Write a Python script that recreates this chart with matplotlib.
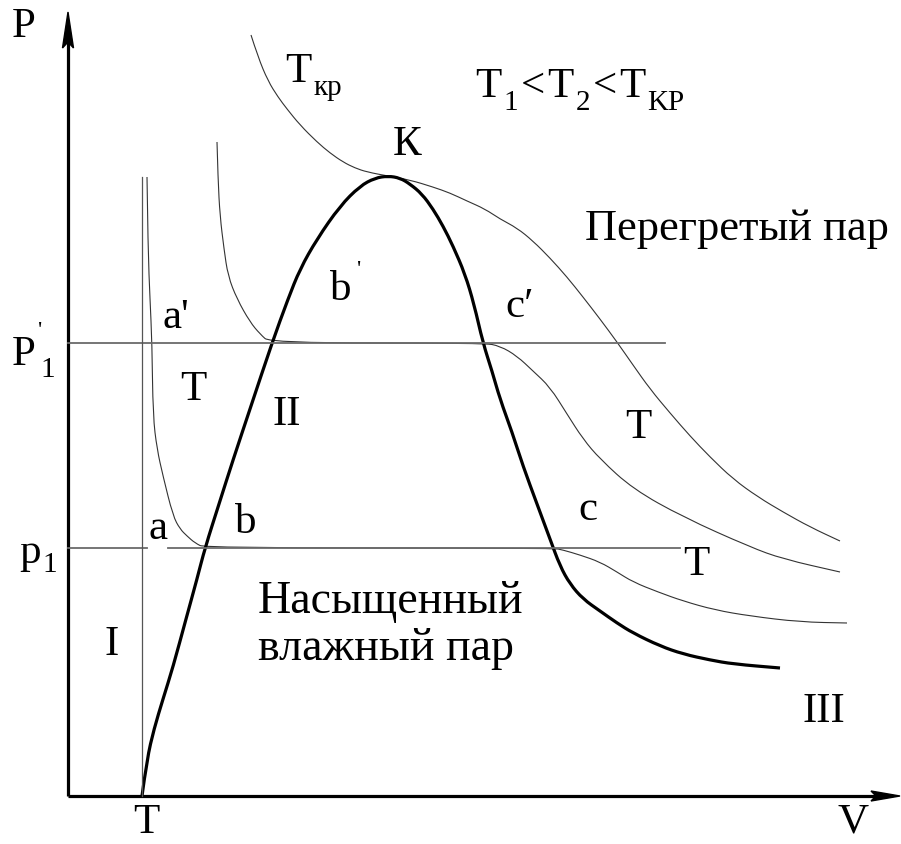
import matplotlib
matplotlib.use("Agg")
import matplotlib.pyplot as plt
from matplotlib import font_manager
from matplotlib.font_manager import FontProperties
from matplotlib.patches import Polygon, PathPatch
from matplotlib.path import Path

SERIF_FILE = font_manager.findfont(FontProperties(family='Liberation Serif'))

# === Curves on the P-V plane (V to the right, P upwards) ===
# boundary curve: liquid branch, critical point K, vapour branch
sat_v = [74, 79, 86, 95, 105, 118, 129, 137, 151, 165, 183, 204, 220, 232, 249, 272, 292,
         307, 320, 332, 342, 354, 365, 375, 385, 397, 406, 415, 424, 432, 444, 455, 469,
         482, 492, 502, 515, 532, 549, 565, 592, 615, 642, 665, 712]
sat_p = [0, 37, 67, 97, 129, 177, 217, 248, 292, 336, 390, 453, 497, 527, 557, 590, 610,
         618, 620, 618, 612, 602, 587, 570, 550, 522, 492, 453, 425, 397, 364, 330, 292,
         257, 230, 212, 197, 185, 173, 163, 150, 142, 136, 132, 128]

# critical isotherm T_kr
tkr_v = [183, 190, 200, 210, 219, 232, 249, 262, 275, 287, 299, 320, 342, 365, 382, 399,
         417, 432, 449, 465, 482, 499, 515, 532, 549, 565, 582, 602, 622, 642, 665, 690,
         715, 742, 772]
tkr_p = [761, 739, 715, 699, 687, 671, 654, 643, 634, 628, 624, 620, 616, 609, 603, 595,
         587, 577, 568, 555, 538, 519, 499, 477, 454, 431, 407, 383, 360, 339, 317, 299,
         284, 269, 255]

# isotherm T2 (flat part at P1')
t2_v = [149, 150, 152, 156, 160, 169, 182, 192, 202, 416, 432, 449, 465, 482, 499, 515,
        532, 565, 615, 682, 715, 772]
t2_p = [654, 617, 580, 547, 520, 497, 474, 462, 453, 453, 450, 440, 425, 409, 382, 357,
        337, 307, 279, 249, 237, 224]

# isotherm T1 (flat part at p1)
t1_v = [79, 80, 82, 84, 85, 89, 95, 105, 112, 119, 127, 137, 485, 495, 512, 532, 549,
        565, 590, 615, 647, 682, 732, 779]
t1_p = [619, 547, 497, 453, 380, 347, 320, 280, 267, 260, 253, 248, 248, 246, 241, 234,
        224, 214, 204, 195, 186, 180, 174, 173]

# pressure levels and the melting line
p1 = 248
p1_prime = 453
v_melt = 74

fig = plt.figure(figsize=(9.01, 8.45), dpi=100)
ax = fig.add_axes([0, 0, 1, 1])
ax.set_xlim(-68, 833)
ax.set_ylim(-48, 797)
ax.axis('off')
renderer = fig.canvas.get_renderer()


def curve(v, p, **kw):
    # quadratic spline through the midpoints, the read points act as controls
    pts = list(zip(v, p))
    verts = [pts[0]]
    codes = [Path.MOVETO]
    for i in range(1, len(pts) - 1):
        mid = ((pts[i][0] + pts[i + 1][0]) / 2, (pts[i][1] + pts[i + 1][1]) / 2)
        verts += [pts[i], mid]
        codes += [Path.CURVE3, Path.CURVE3]
    verts.append(pts[-1])
    codes.append(Path.LINETO)
    ax.add_patch(PathPatch(Path(verts, codes), fill=False, capstyle='butt',
                           joinstyle='round', **kw))


# axes with arrows
ax.plot([0, 0], [0, 760], color='black', lw=2.3, solid_capstyle='butt')
ax.plot([0, 815], [0, 0], color='black', lw=2.3, solid_capstyle='butt')
ax.add_patch(Polygon([[0, 784], [-5.5, 748], [0, 754], [5.5, 748]], closed=True,
                     color='black'))
ax.add_patch(Polygon([[832, 0], [803, 5], [808, 0], [803, -5]], closed=True,
                     color='black'))

# levels
grey = '#6a6a6a'
ax.plot([0, 79], [p1, p1], color=grey, lw=1.3)
ax.plot([100, 612], [p1, p1], color=grey, lw=1.3)
ax.plot([0, 597], [p1_prime, p1_prime], color=grey, lw=1.3)
ax.plot([v_melt, v_melt], [0, 619], color='#555555', lw=0.9)

# isotherms
curve(tkr_v, tkr_p, edgecolor='#333333', lw=0.8)
curve(t2_v, t2_p, edgecolor='#333333', lw=0.8)
curve(t1_v, t1_p, edgecolor='#333333', lw=0.8)

# boundary curve
curve(sat_v, sat_p, edgecolor='black', lw=2.3)

big = 31
small = 21
prime = 17


def label(v, p, s, size=big):
    fp = FontProperties(fname=SERIF_FILE, size=size)
    return ax.text(v, p, s, ha='left', va='baseline', fontproperties=fp)


def run(v, p, pieces):
    # pieces: (text, size, vertical shift, gap) placed one after another
    for s, size, dp, gap in pieces:
        t = label(v + gap, p + dp, s, size)
        x1 = t.get_window_extent(renderer).x1
        v = ax.transData.inverted().transform((x1, 0))[0]


label(-56, 760, 'P')
run(217, 715, [('T', big, 0, 0), ('кр', small, -13, 2)])
run(407, 700, [('T', big, 0, 0), ('1', small, -13, 2), ('<', big, 0, 3),
               ('T', big, 0, 2), ('2', small, -13, 2), ('<', big, 0, 3),
               ('T', big, 0, 2), ('KP', small, -13, 2)])

label(325, 642, 'К')
label(517, 557, 'Перегретый пар', 32)

run(262, 497, [('b', big, 0, 0), ("'", prime, 24, 5)])
label(95, 469, "a'")
label(437, 480, "c′")

run(-56, 432, [('P', big, 0, 0), ("'", prime, 28, 2)])
label(-28, 420, '1', small)
run(-49, 234, [('p', big, 0, 0), ('1', small, -9, 2)])

label(112, 397, 'T')
label(204, 372, 'II')
label(80, 258, 'a')
label(167, 264, 'b')
label(557, 359, 'T')
label(510, 277, 'c')
label(615, 222, 'T')

label(190, 184, 'Насыщенный', 33)
label(190, 137, 'влажный пар', 33)

label(37, 142, 'I')
label(734, 75, 'III')
label(65, -36, 'T')
label(770, -36, 'V')

fig.savefig('out.png', dpi=100, facecolor='white')
